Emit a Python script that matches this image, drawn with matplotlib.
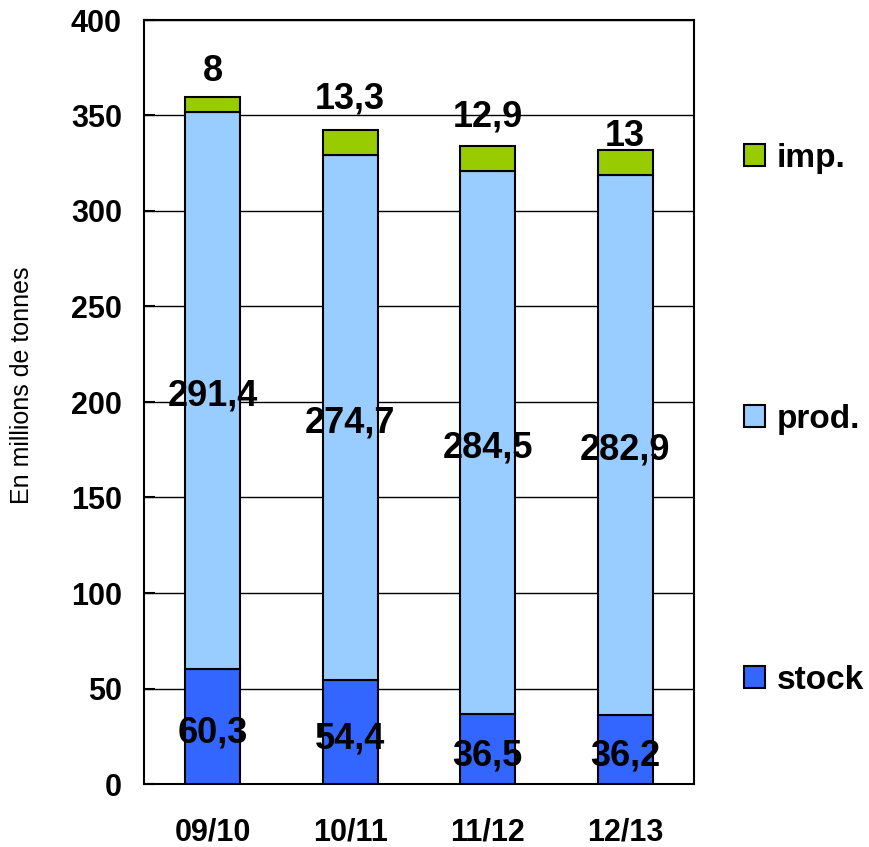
import matplotlib
matplotlib.use("Agg")
import matplotlib.pyplot as plt
from matplotlib.patches import Patch

plt.rcParams['font.family'] = ['Liberation Sans', 'DejaVu Sans']

categories = ["09/10", "10/11", "11/12", "12/13"]
stock = [60.3, 54.4, 36.5, 36.2]
prod = [291.4, 274.7, 284.5, 282.9]
imp = [8, 13.3, 12.9, 13]
stock_lbl = ["60,3", "54,4", "36,5", "36,2"]
prod_lbl = ["291,4", "274,7", "284,5", "282,9"]
imp_lbl = ["8", "13,3", "12,9", "13"]
yticks = [0, 50, 100, 150, 200, 250, 300, 350, 400]

# label offsets in pixels above the top of each bar (styling)
imp_lbl_offset = [25, 31.5, 29.5, 13]

c_stock, c_prod, c_imp = "#3366FF", "#99CCFF", "#99CC00"

fig = plt.figure(figsize=(8.7, 8.47), dpi=100)
ax = fig.add_axes([144/870, 1-784/847, (694-144)/870, (784-20)/847])

x = list(range(len(categories)))
w = 0.4
lw = 1.5
ax.bar(x, stock, w, color=c_stock, edgecolor="black", linewidth=lw, zorder=3)
ax.bar(x, prod, w, bottom=stock, color=c_prod, edgecolor="black", linewidth=lw, zorder=3)
b3 = [s + p for s, p in zip(stock, prod)]
ax.bar(x, imp, w, bottom=b3, color=c_imp, edgecolor="black", linewidth=lw, zorder=3)

fs = 26
for i in x:
    ax.annotate(stock_lbl[i], (i, stock[i] / 2), xytext=(0, -7),
                textcoords="offset pixels", ha="center", va="center",
                fontsize=fs, fontweight="bold", zorder=5)
    ax.annotate(prod_lbl[i], (i, stock[i] + prod[i] / 2), xytext=(0, -5),
                textcoords="offset pixels", ha="center", va="center",
                fontsize=fs, fontweight="bold", zorder=5)
    ax.annotate(imp_lbl[i], (i, b3[i] + imp[i]), xytext=(0, imp_lbl_offset[i]),
                textcoords="offset pixels", ha="center", va="center",
                fontsize=fs, fontweight="bold", zorder=5)

ax.set_xlim(-0.5, len(categories) - 0.5)
ax.set_ylim(0, 400)
ax.set_yticks(yticks)
ax.set_yticklabels([str(t) for t in yticks], fontsize=22, fontweight="bold")
ax.set_xticks(x)
ax.set_xticklabels(categories, fontsize=22, fontweight="bold")
ax.tick_params(axis="x", length=0, pad=24)
ax.tick_params(axis="y", direction="in", length=8, width=1.5, pad=16)
ax.grid(axis="y", color="black", linewidth=1.0, zorder=0)
ax.set_axisbelow(True)
for s in ax.spines.values():
    s.set_linewidth(1.5)
    s.set_color("black")

ax.set_ylabel("En millions de tonnes", fontsize=18)
ax.yaxis.set_label_coords(-0.2, 0.522)

handles = [Patch(facecolor=c_imp, edgecolor="black", linewidth=1.5),
           Patch(facecolor=c_prod, edgecolor="black", linewidth=1.5),
           Patch(facecolor=c_stock, edgecolor="black", linewidth=1.5)]
leg = fig.legend(handles, ["imp.", "prod.", "stock"], loc="center left",
                 bbox_to_anchor=(744/870, 1-419/847), frameon=False,
                 prop={"size": 24, "weight": "bold"}, labelspacing=6.9,
                 handlelength=0.63, handleheight=0.63, handletextpad=0.36,
                 borderpad=0, borderaxespad=0)

fig.savefig("out.png", dpi=100)
